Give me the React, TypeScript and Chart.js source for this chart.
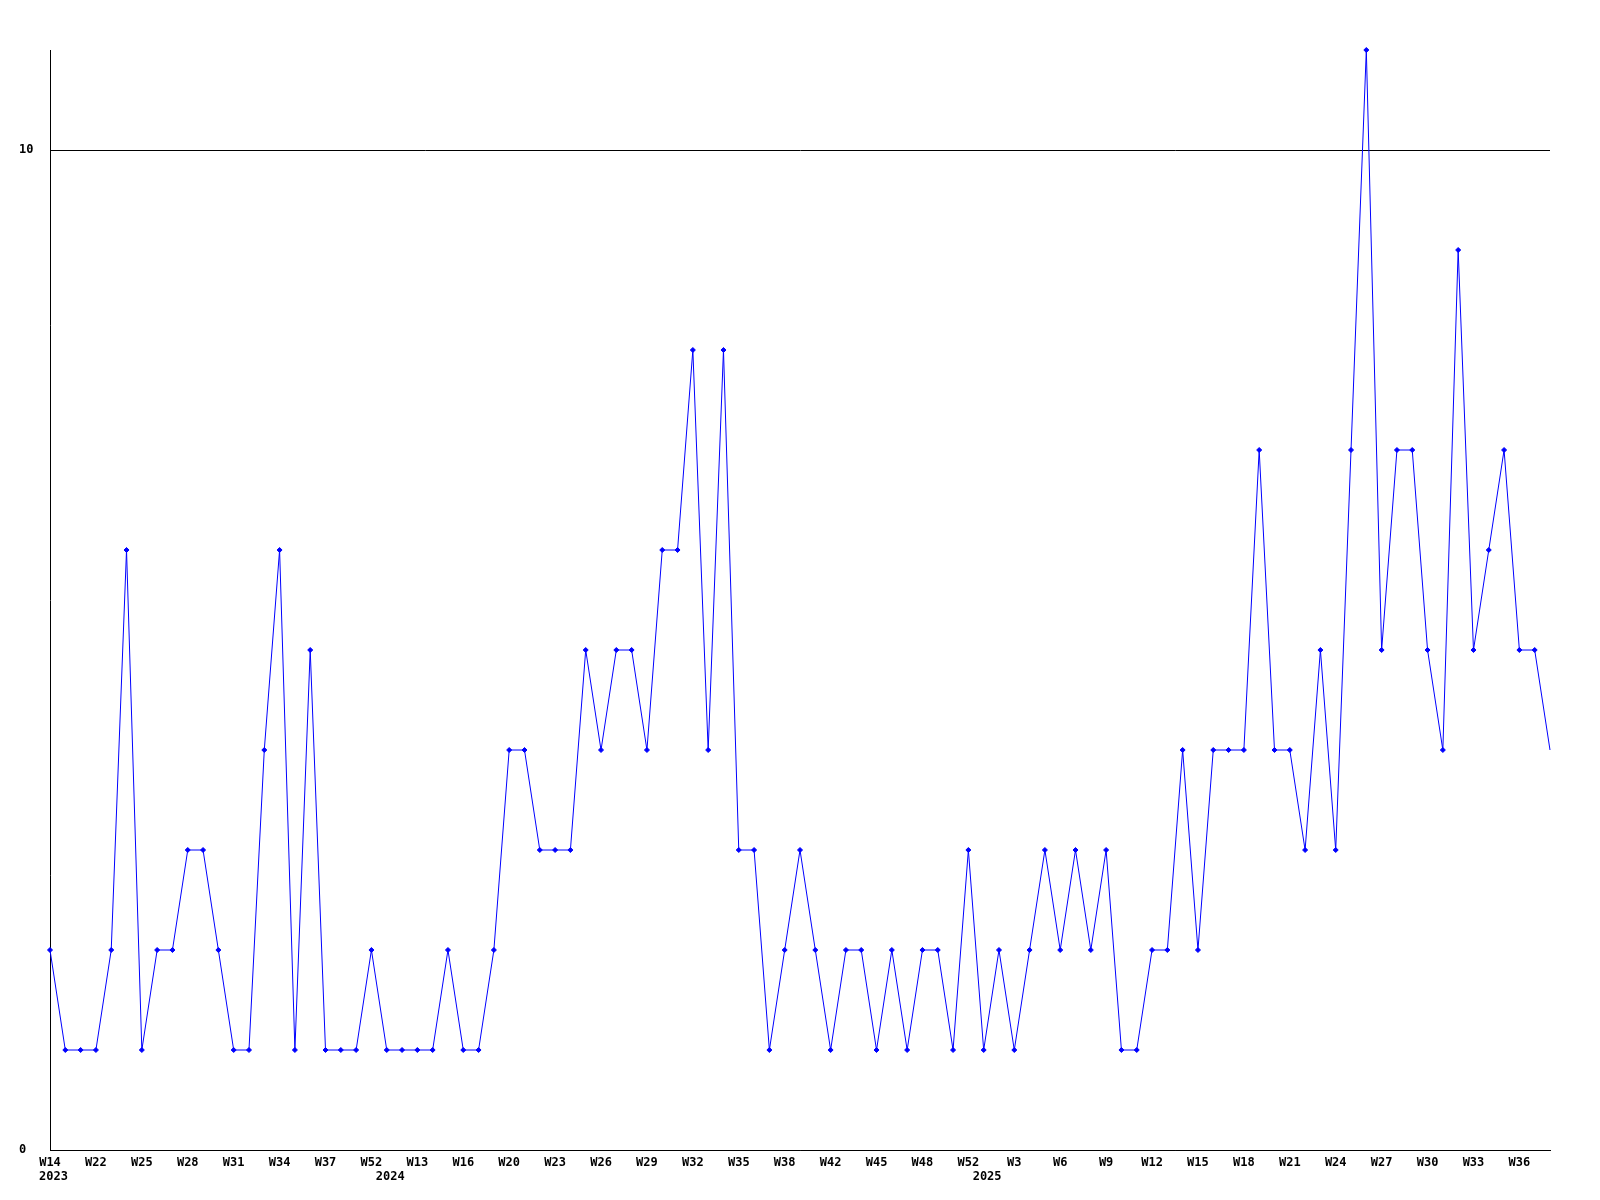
import React, { useEffect, useRef } from 'react';
import { Chart, registerables } from 'chart.js';

Chart.register(...registerables);

// Week labels, one per data point
const weekLabels: string[] = [
  'W14', 'W20', 'W21', 'W22', 'W23', 'W24', 'W25', 'W26', 'W27', 'W28',
  'W29', 'W30', 'W31', 'W32', 'W33', 'W34', 'W35', 'W36', 'W37', 'W38',
  'W39', 'W52', 'W1', 'W2', 'W13', 'W14', 'W15', 'W16', 'W17', 'W18',
  'W20', 'W21', 'W22', 'W23', 'W24', 'W25', 'W26', 'W27', 'W28', 'W29',
  'W30', 'W31', 'W32', 'W33', 'W34', 'W35', 'W36', 'W37', 'W38', 'W39',
  'W40', 'W42', 'W43', 'W44', 'W45', 'W46', 'W47', 'W48', 'W49', 'W50',
  'W52', 'W1', 'W2', 'W3', 'W4', 'W5', 'W6', 'W7', 'W8', 'W9',
  'W10', 'W11', 'W12', 'W13', 'W14', 'W15', 'W16', 'W17', 'W18', 'W19',
  'W20', 'W21', 'W22', 'W23', 'W24', 'W25', 'W26', 'W27', 'W28', 'W29',
  'W30', 'W31', 'W32', 'W33', 'W34', 'W35', 'W36', 'W37', 'W38',
];

// Series values
const values: number[] = [
  2, 1, 1, 1, 2, 6, 1, 2, 2, 3,
  3, 2, 1, 1, 4, 6, 1, 5, 1, 1,
  1, 2, 1, 1, 1, 1, 2, 1, 1, 2,
  4, 4, 3, 3, 3, 5, 4, 5, 5, 4,
  6, 6, 8, 4, 8, 3, 3, 1, 2, 3,
  2, 1, 2, 2, 1, 2, 1, 2, 2, 1,
  3, 1, 2, 1, 2, 3, 2, 3, 2, 3,
  1, 1, 2, 2, 4, 2, 4, 4, 4, 7,
  4, 4, 3, 5, 3, 7, 11, 5, 7, 7,
  5, 4, 9, 5, 6, 7, 5, 5, 4,
];

// Year labels shown under the week labels
const yearIndexes: number[] = [0, 22, 61];
const yearTexts: string[] = ['2023', '2024', '2025'];

// Tick settings
const labelEvery = 3;
const yTickValues: number[] = [0, 10];
const yMin = 0;
const yMax = 11;

const fontFamily = "'DejaVu Sans Mono', monospace";
const font = { family: fontFamily, size: 12, weight: 'bold' as const, lineHeight: 1.25 };

const yearPlugin = {
  id: 'yearLabels',
  afterDraw(chart: any) {
    const xs = chart.scales.x;
    const ctx = chart.ctx;
    ctx.save();
    ctx.font = `bold 12px ${fontFamily}`;
    ctx.fillStyle = '#000';
    ctx.textAlign = 'left';
    ctx.textBaseline = 'middle';
    yearIndexes.forEach((idx, i) => {
      const x = xs.getPixelForValue(idx) - 11;
      ctx.fillText(yearTexts[i], x, xs.top + 27);
    });
    ctx.restore();
  },
};

export default function App() {
  const ref = useRef<HTMLCanvasElement | null>(null);

  useEffect(() => {
    if (!ref.current) return;
    const chart = new Chart(ref.current, {
      type: 'line',
      data: {
        labels: weekLabels,
        datasets: [
          {
            data: values,
            borderColor: '#0000ff',
            backgroundColor: '#0000ff',
            borderWidth: 1,
            tension: 0,
            fill: false,
            clip: false,
            pointStyle: 'rectRot',
            pointRadius: (ctx: any) => (ctx.dataIndex === values.length - 1 ? 0 : 2.5),
            pointBackgroundColor: '#0000ff',
            pointBorderColor: '#0000ff',
            pointBorderWidth: 1,
          },
        ],
      },
      options: {
        responsive: false,
        animation: false,
        events: [],
        layout: { padding: { left: 11, right: 42, top: 42, bottom: 0 } },
        plugins: { legend: { display: false }, tooltip: { enabled: false } },
        scales: {
          x: {
            type: 'category',
            offset: false,
            grid: { display: false, drawTicks: false },
            border: { display: true, color: '#000', width: 1 },
            ticks: {
              autoSkip: false,
              maxRotation: 0,
              minRotation: 0,
              padding: 5,
              color: '#000',
              font,
              callback: (_v: any, idx: number) => (idx % labelEvery === 0 ? weekLabels[idx] : ''),
            },
            afterFit: (s: any) => {
              s.height = 42;
            },
          },
          y: {
            min: yMin,
            max: yMax,
            afterBuildTicks: (axis: any) => {
              axis.ticks = yTickValues.map((v) => ({ value: v }));
            },
            grid: { color: '#000', lineWidth: 1, drawTicks: false },
            border: { display: true, color: '#000', width: 1 },
            ticks: { crossAlign: 'far', padding: 0, color: '#000', font },
            afterFit: (s: any) => {
              s.width = 31;
            },
          },
        },
      },
      plugins: [yearPlugin],
    });
    return () => chart.destroy();
  }, []);

  return (
    <div style={{ width: 1584, height: 1184 }}>
      <canvas ref={ref} width={1584} height={1184} style={{ display: 'block' }} />
    </div>
  );
}
